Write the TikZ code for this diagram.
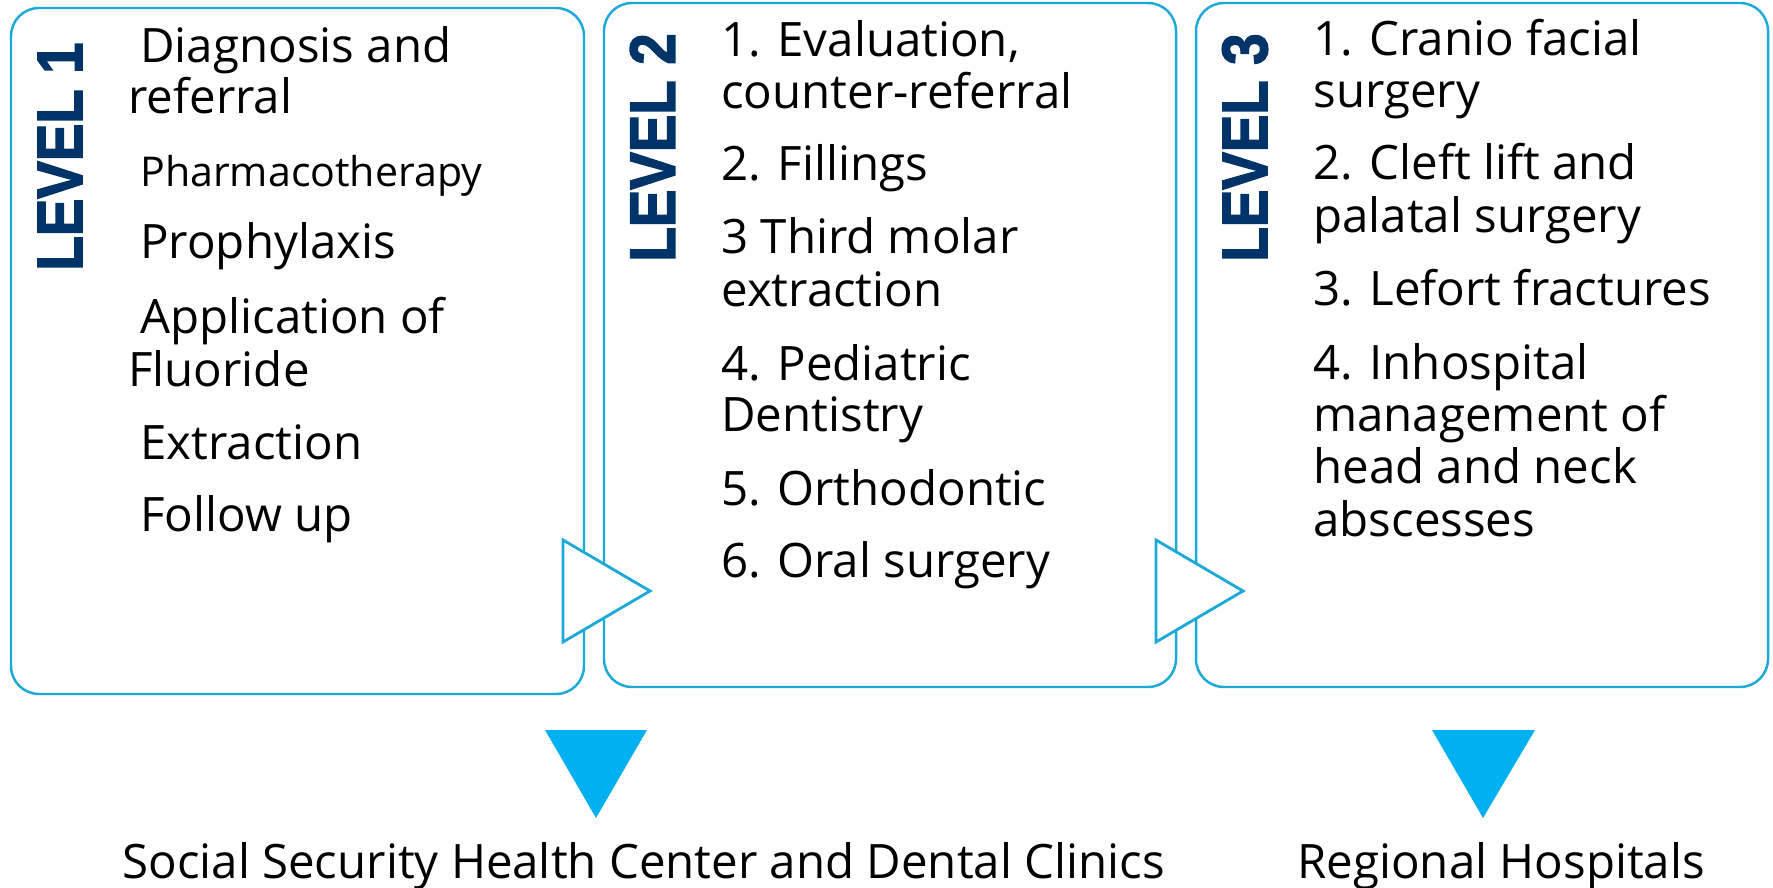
\documentclass[tikz,border=0pt]{standalone}
\usepackage{fontspec}
\setmainfont{Open Sans}
\newfontfamily\levelfont{Liberation Sans}[BoldFeatures={FakeBold=2.5}]
\usetikzlibrary{fit}
\definecolor{boxblue}{HTML}{1BA9D9}
\definecolor{arrowcyan}{HTML}{00B0F0}
\definecolor{levelnavy}{HTML}{003469}
\newcommand{\lead}{\hspace*{0.24cm}}

\tikzset{
  levelbox/.style={draw=boxblue, line width=1.4pt, rounded corners=0.56cm, inner sep=0pt},
  leveltag/.style={rotate=90, inner sep=0pt, text=levelnavy,
    font=\levelfont\bfseries\fontsize{36.5}{36.5}\selectfont},
  itemline/.style={anchor=base west, inner sep=0pt, font=\fontsize{27}{29}\selectfont},
  chevron/.style={draw=boxblue, line width=1.6pt, fill=white, line join=miter},
  downtip/.style={fill=arrowcyan},
  place/.style={anchor=base west, inner sep=0pt, font=\fontsize{27}{29}\selectfont}
}

\begin{document}
\begin{tikzpicture}[x=0.02cm,y=-0.02cm]
            \useasboundingbox (0,0) rectangle (1773,888);

            % the three level boxes
            \node[levelbox, fit={(11,8) (584,694)}] (box1) {};
            \node[levelbox, fit={(604,3) (1176,687)}] (box2) {};
            \node[levelbox, fit={(1196,3) (1768,687)}] (box3) {};

            \node[leveltag] (tag1) at (60,156.5) {\scalebox{0.877}[1]{LEVEL 1}};
            \node[leveltag] (tag2) at (652.5,147.5) {\scalebox{0.877}[1]{LEVEL 2}};
            \node[leveltag] (tag3) at (1245,147.5) {\scalebox{0.877}[1]{LEVEL 3}};

            % one node per printed line, at its baseline
            \foreach \y/\t [count=\k] in {62.5/{\lead Diagnosis and}, 114/referral,
                187/{\lead\fontsize{23.4}{29}\selectfont Pharmacotherapy},
                259/{\lead Prophylaxis}, 333/{\lead Application of}, 386/Fluoride,
                459/{\lead Extraction}, 531/{\lead Follow up}}
                \node[itemline] (one-\k) at (128,\y) {\t};
            \foreach \y/\t [count=\k] in {57/{1. Evaluation,}, 108.5/counter-referral,
                181/2. Fillings, 253.5/3 Third molar, 306/extraction,
                380/4. Pediatric, 431/Dentistry, 505/5. Orthodontic, 577/6. Oral surgery}
                \node[itemline] (two-\k) at (721,\y) {\t};
            \foreach \y/\t [count=\k] in {56/1. Cranio facial, 108/surgery,
                180/2. Cleft lift and, 233/palatal surgery, 305/3. Lefort fractures,
                379/4. Inhospital, 431/management of, 483/head and neck, 536/abscesses}
                \node[itemline] (three-\k) at (1313,\y) {\t};

            % arrows between the levels
            \draw[chevron] (563,540) -- (650,591) -- (563,642) -- cycle;
            \draw[chevron] (1156,540) -- (1243,591) -- (1156,642) -- cycle;

            % where each level is given
            \fill[downtip] (545,730) -- (647,730) -- (596,818) -- cycle;
            \fill[downtip] (1432,730) -- (1535,730) -- (1483,818) -- cycle;
            \node[place] (clinics) at (122,878) {Social Security Health Center and Dental Clinics};
            \node[place] (hospitals) at (1297,878) {Regional Hospitals};
        \end{tikzpicture}
\end{document}
